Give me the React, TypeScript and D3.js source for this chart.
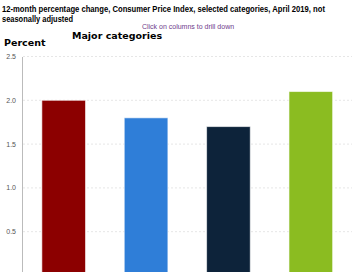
import React from "react";
import * as d3 from "d3";

const categories = ["All items", "Food", "Energy", "All items less food and energy"];
const values = [2.0, 1.8, 1.7, 2.1];
const colors = ["#8c0000", "#2f7ed8", "#0d233a", "#8bbc21"];
const yTicks = [0.5, 1.0, 1.5, 2.0, 2.5];

const W = 356;
const H = 272;

export default function App() {
  const x = d3.scaleBand<string>().domain(categories).range([22.5, 352]).paddingInner(0.47).paddingOuter(0.235);
  const y = d3.scaleLinear().domain([0, 2.5]).range([275.5, 56.5]);
  return (
    <svg width={W} height={H} style={{ position: "absolute", left: 0, top: 0, background: "#fff" }} fontFamily="'Liberation Sans', Arial, sans-serif">
      <text x={2} y={12} fontSize={8.2} fontWeight="bold" fill="#000" textLength={323} lengthAdjust="spacingAndGlyphs">
        12-month percentage change, Consumer Price Index, selected categories, April 2019, not
      </text>
      <text x={2} y={21.5} fontSize={8.2} fontWeight="bold" fill="#000" textLength={71} lengthAdjust="spacingAndGlyphs">seasonally adjusted</text>
      <text x={188} y={29} fontSize={7} fill="#6f3c8c" textAnchor="middle">Click on columns to drill down</text>
      <text x={72} y={39} fontSize={9.5} fontWeight="bold" fontFamily="'DejaVu Sans', Verdana, sans-serif" fill="#000">Major categories</text>
      <text x={4} y={46} fontSize={9.5} fontWeight="bold" fontFamily="'DejaVu Sans', Verdana, sans-serif" fill="#000">Percent</text>
      {yTicks.map((t) => (
        <g key={t}>
          <line x1={23} x2={352} y1={y(t)} y2={y(t)} stroke="#e6e6e6" strokeWidth={1} strokeDasharray="2,2" />
          <text x={16} y={y(t) + 2.5} fontSize={7} fill="#555" textAnchor="end">{t.toFixed(1)}</text>
        </g>
      ))}
      <line x1={22.5} x2={22.5} y1={57} y2={H} stroke="#bbb" strokeWidth={1} />
      {categories.map((c, i) => (
        <rect key={c} x={x(c)} y={y(values[i])} width={x.bandwidth()} height={y(0) - y(values[i])} fill={colors[i]} stroke="#fff" strokeOpacity={0.6} strokeWidth={1} />
      ))}
    </svg>
  );
}
